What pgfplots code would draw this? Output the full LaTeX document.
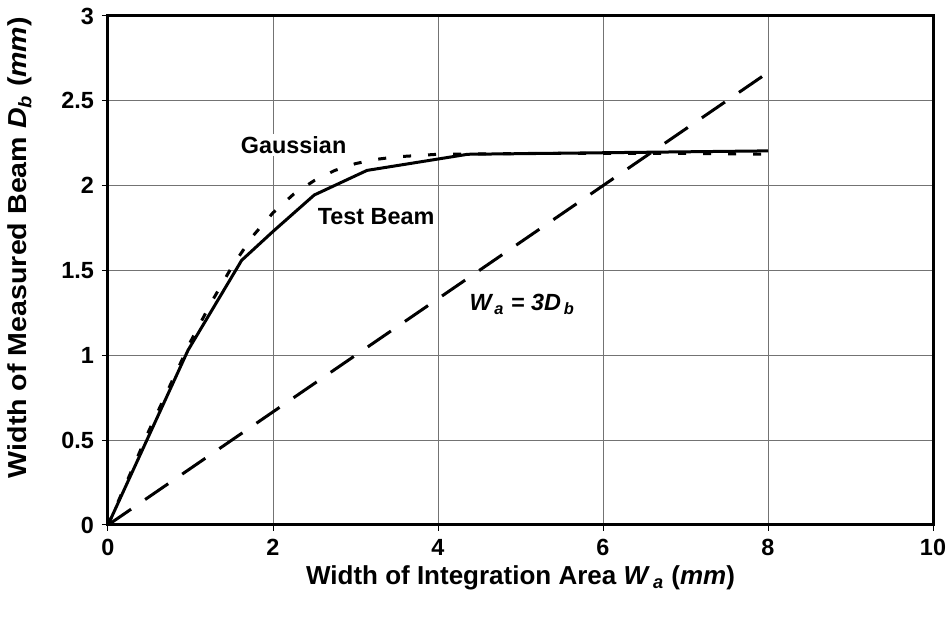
\documentclass[border=0pt]{standalone}
\usepackage{fontspec}
\setmainfont{Liberation Sans}
\newfontfamily\ylabfont[FakeStretch=1.1]{Liberation Sans}
\usepackage{pgfplots}
\pgfplotsset{compat=1.18}
\usetikzlibrary{calc}

\begin{document}
\fontsize{11.7}{14}\selectfont
\begin{tikzpicture}
\begin{axis}[
  scale only axis, width=412.5pt, height=254.5pt,
  xmin=0, xmax=10, ymin=0, ymax=3,
  xtick={0,2,...,10}, ytick={0,0.5,...,3},
  grid=major, grid style={black!55, line width=0.5pt},
  axis line style={line width=1.5pt},
  tick align=outside, major tick length=3pt,
  tick style={black, line width=0.5pt},
  xtick pos=left, ytick pos=left,
  ticklabel style={font=\fontsize{11.7}{14}\selectfont\bfseries},
  /pgf/number format/assume math mode=true,
  xlabel={Width of Integration Area \textit{W}\textsubscript{\,\textit{a}} (\textit{mm})},
  ylabel={Width of Measured Beam \textit{D}\textsubscript{\textit{b}} (\textit{mm})},
  xlabel style={font=\fontsize{13}{15}\selectfont\bfseries,
    at={(axis description cs:0.5,-0.104)}, anchor=center},
  ylabel style={font=\ylabfont\fontsize{13}{15}\selectfont\bfseries,
    at={(axis description cs:-0.107,0.545)}, anchor=center},
]
% measured test beam
\addplot[black, line width=1.5pt] coordinates {
  (0,0) (0.97,1.03) (1.62,1.56) (2,1.73) (2.5,1.945) (3.14,2.09) (4.36,2.185) (8,2.205)};
% gaussian reference
\addplot[black, line width=1.5pt, dash pattern=on 4pt off 8.5pt] coordinates {
  (0,0) (0.5,0.56) (1,1.08) (1.25,1.31) (1.5,1.52) (1.75,1.70) (2,1.84) (2.25,1.95)
  (2.5,2.03) (2.75,2.09) (3,2.13) (3.25,2.155) (3.5,2.17) (4,2.185) (5,2.19)
  (6,2.19) (7,2.19) (8,2.185)};
% W_a = 3 D_b
\addplot[black, line width=1.5pt, dash pattern=on 14pt off 8.5pt] coordinates {
  (0,0) (8,2.667)};

\node[fill=white, inner sep=1pt, font=\bfseries] at (axis cs:2.25,2.24) {Gaussian};
\node[fill=white, inner sep=1pt, font=\bfseries] at (axis cs:3.25,1.815) {Test Beam};
\node[font=\bfseries\itshape] at (axis cs:5.02,1.30) {W\textsubscript{\,a} = 3D\textsubscript{\,b}};
\end{axis}
\pgfresetboundingbox
\path ($(current axis.south west)+(-54pt,-50pt)$) rectangle ($(current axis.north east)+(7.5pt,8pt)$);
\end{tikzpicture}
\end{document}
